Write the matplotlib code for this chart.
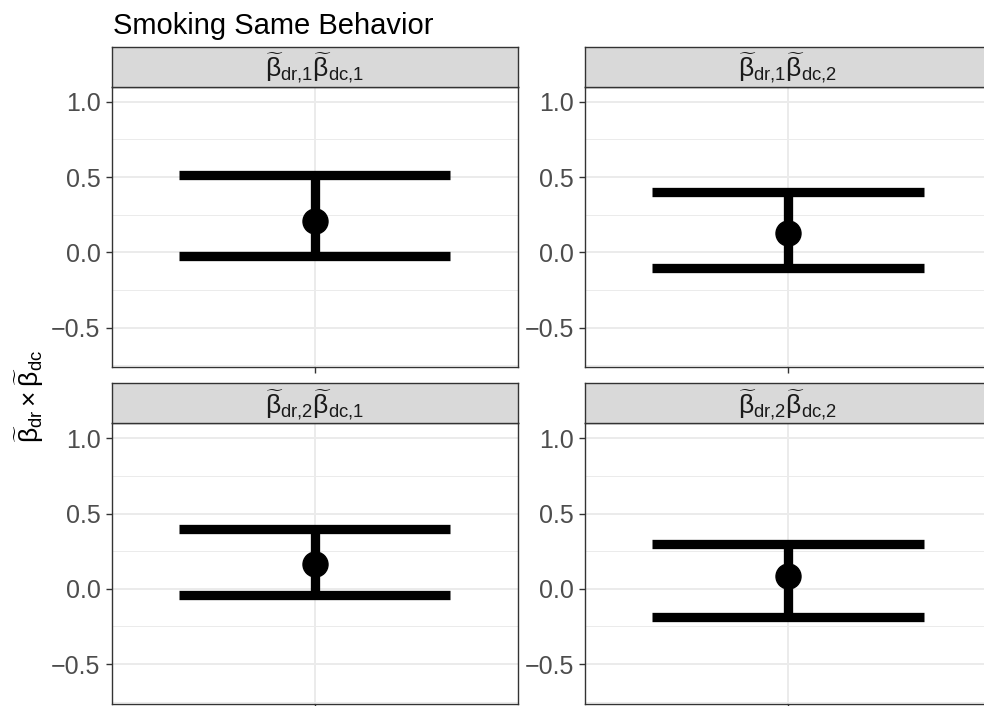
import matplotlib.pyplot as plt
import numpy as np

plt.rcParams['font.family'] = ['Liberation Sans', 'DejaVu Sans']
plt.rcParams['mathtext.fontset'] = 'custom'
plt.rcParams['mathtext.rm'] = 'Liberation Sans'
plt.rcParams['mathtext.it'] = 'Liberation Sans'
plt.rcParams['mathtext.bf'] = 'Liberation Sans:bold'

# one facet per product of coefficients, row by row
facets = [
    r'$\widetilde{\beta}_{\mathrm{dr{,}1}}\widetilde{\beta}_{\mathrm{dc{,}1}}$',
    r'$\widetilde{\beta}_{\mathrm{dr{,}1}}\widetilde{\beta}_{\mathrm{dc{,}2}}$',
    r'$\widetilde{\beta}_{\mathrm{dr{,}2}}\widetilde{\beta}_{\mathrm{dc{,}1}}$',
    r'$\widetilde{\beta}_{\mathrm{dr{,}2}}\widetilde{\beta}_{\mathrm{dc{,}2}}$',
]
estimate = [0.21, 0.13, 0.163, 0.084]
lower = [-0.026, -0.103, -0.042, -0.19]
upper = [0.513, 0.40, 0.396, 0.30]
yticks = [-0.5, 0.0, 0.5, 1.0]
ytick_labels = ['\u22120.5', '0.0', '0.5', '1.0']
yminor = [-0.75, -0.25, 0.25, 0.75]

W, H = 984, 706
fig = plt.figure(figsize=(W / 100, H / 100), dpi=100)

# panel geometry in pixels (right column runs past the edge)
col_x = [111.7, 585.0]
row_top = [86.7, 423.3]
panel_w, panel_h, strip_h = 406.0, 280.7, 40.0
border = '#333333'

for i in range(4):
    r, c = divmod(i, 2)
    x0, y0 = col_x[c], row_top[r]
    ax = fig.add_axes([x0 / W, 1 - (y0 + panel_h) / H, panel_w / W, panel_h / H])

    ax.hlines([lower[i], upper[i]], -0.45, 0.45, colors='black', lw=6.7,
              capstyle='butt', zorder=3)
    ax.vlines(0, lower[i], upper[i], colors='black', lw=6.7, zorder=3)
    ax.plot(0, estimate[i], 'o', ms=18, color='black', zorder=4)

    ax.set_xlim(-0.6732, 0.6732)
    ax.set_ylim(-0.765, 1.1)
    ax.set_xticks([0])
    ax.set_xticklabels([''])
    ax.set_yticks(yticks)
    ax.set_yticklabels(ytick_labels)
    ax.set_yticks(yminor, minor=True)
    ax.tick_params(axis='both', which='major', length=4, width=1.0,
                   color=border, labelsize=18, labelcolor='#4D4D4D', pad=4)
    ax.tick_params(axis='y', which='minor', length=0)
    ax.grid(which='major', color='#EBEBEB', lw=1.4, zorder=0)
    ax.grid(which='minor', axis='y', color='#EBEBEB', lw=0.7, zorder=0)
    ax.set_axisbelow(True)
    for s in ax.spines.values():
        s.set_color(border)
        s.set_linewidth(1.0)

    # facet strip
    sax = fig.add_axes([x0 / W, 1 - y0 / H, panel_w / W, strip_h / H])
    sax.set_facecolor('#D9D9D9')
    sax.set_xticks([])
    sax.set_yticks([])
    for s in sax.spines.values():
        s.set_color(border)
        s.set_linewidth(1.0)
    sax.text(0.5, 0.47, facets[i], transform=sax.transAxes, ha='center',
             va='center', fontsize=19, color='#1A1A1A')

fig.text(112.7 / W, 1 - 33.5 / H, 'Smoking Same Behavior', fontsize=21,
         va='baseline', ha='left', color='black')
fig.text(29 / W, 1 - 396 / H,
         r'$\widetilde{\beta}_{\mathrm{dr}}\times\widetilde{\beta}_{\mathrm{dc}}$',
         rotation=90, ha='center', va='center', fontsize=19, color='black')

fig.savefig('out.png', dpi=100)
